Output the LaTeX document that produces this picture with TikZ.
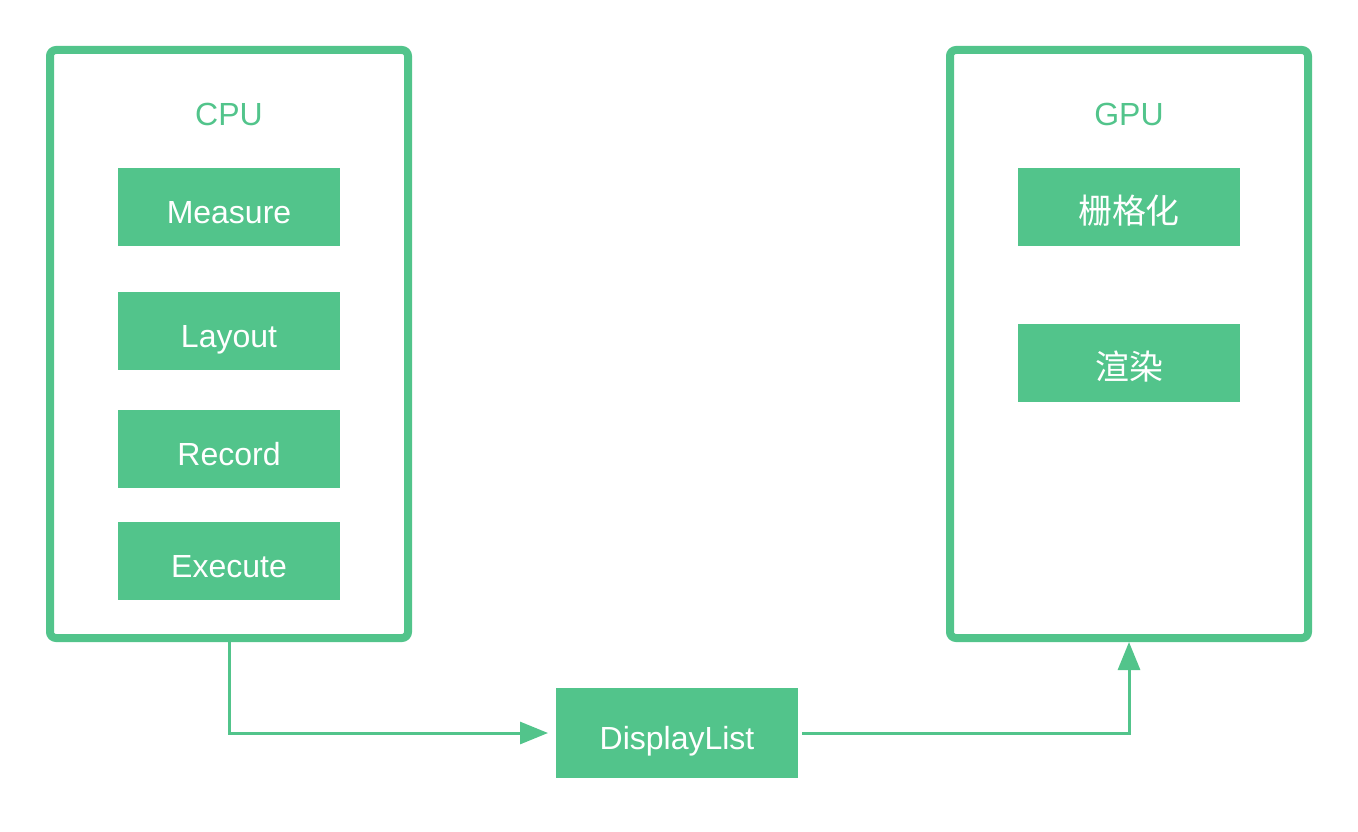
\documentclass[tikz,border=0pt]{standalone}
\usepackage{fontspec}
\setmainfont{Liberation Sans}
\newfontfamily\cjk{Noto Sans CJK SC}[Scale=1.06]
\usetikzlibrary{positioning, arrows.meta}
\definecolor{mint}{HTML}{52C48B}

\begin{document}
\begin{tikzpicture}[x=1pt, y=-1pt, font=\fontsize{32pt}{38pt}\selectfont,
		unit/.style={draw=mint, line width=8pt, rounded corners=6pt, minimum width=358pt, minimum height=588pt},
		stage/.style={fill=mint, text=white, inner sep=0pt, outer sep=0pt, minimum width=222pt, minimum height=78pt, text height=32pt, text depth=0pt},
		flow/.style={draw=mint, line width=3pt, -{Triangle[length=28pt, width=22pt]}}]
		\useasboundingbox (0,0) rectangle (1358,832);
		% CPU side
		\node[unit] (cpu) at (229,344) {};
		\node[anchor=base, text=mint] (cpulabel) at (229,126) {CPU};
		\node[stage] (measure) at (229,207) {Measure};
		\node[stage, below=46pt of measure] (layout) {Layout};
		\node[stage, below=40pt of layout] (record) {Record};
		\node[stage, below=34pt of record] (execute) {Execute};
		% GPU side
		\node[unit] (gpu) at (1129,344) {};
		\node[anchor=base, text=mint] (gpulabel) at (1129,126) {GPU};
		\node[stage] (raster) at (1129,207) {\cjk 栅格化};
		\node[stage, below=78pt of raster] (render) {\cjk 渲染};
		% display list
		\node[stage, minimum width=242pt, minimum height=90pt] (display) at (677,733) {DisplayList};
		\draw[flow, shorten >=8pt] (cpu.south) |- (display.west);
		\draw[flow, shorten <=4pt] (display.east) -| (gpu.south);
\end{tikzpicture}
\end{document}
